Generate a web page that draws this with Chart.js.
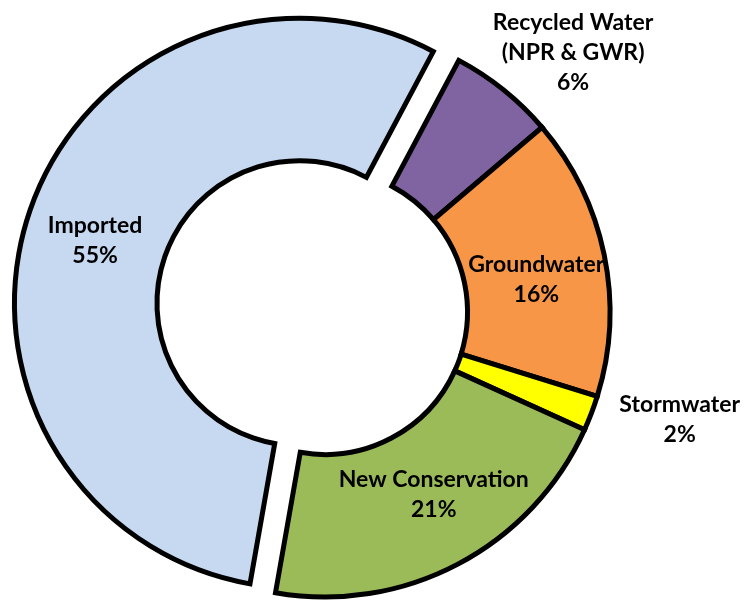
<!DOCTYPE html>
<html>
<head>
<meta charset="utf-8">
<script src="https://cdn.jsdelivr.net/npm/chart.js@4"></script>
<style>
  html, body { margin: 0; padding: 0; background: #fff; }
  #wrap { width: 746px; height: 603px; }
</style>
</head>
<body>
<div id="wrap"><canvas id="supplyChart" width="746" height="603"></canvas></div>
<script>
// water supply mix, clockwise from the top
var categories = ['Recycled Water', 'Groundwater', 'Stormwater', 'New Conservation', 'Imported'];
var labelLines = [['Recycled Water', '(NPR & GWR)', '6%'], ['Groundwater', '16%'], ['Stormwater', '2%'], ['New Conservation', '21%'], ['Imported', '55%']];
var shares = [6, 16, 2, 21, 55];

var sliceColors = ['#8064A2', '#F79646', '#FFFF00', '#9BBB59', '#C6D9F1'];
// how far (px) each slice is pulled out of the ring
var sliceExplode = [0, 0, 0, 0, 27];
// where each label sits: fraction across the ring (>1 = outside), angle nudge in degrees
var labelRadial = [1.52, 0.5, 1.6, 0.49, 0.5];
var labelTurn = [4.9, 3, -4, -3, -2];

function initialize() {
    // Chart.js "offset" also grows the radius of big slices, so move the arc itself
    var explodeSlices = {
        id: 'explodeSlices',
        afterUpdate: function (chart) {
            var meta = chart.getDatasetMeta(0);
            meta.data.forEach(function (arc, i) {
                var d = sliceExplode[i];
                if (!d) return;
                var mid = (arc.startAngle + arc.endAngle) / 2;
                arc.x += Math.cos(mid) * d;
                arc.y += Math.sin(mid) * d;
            });
        }
    };

    var sliceLabels = {
        id: 'sliceLabels',
        afterDatasetsDraw: function (chart) {
            var ctx = chart.ctx;
            var meta = chart.getDatasetMeta(0);
            ctx.save();
            ctx.font = 'bold 23px Lato';
            ctx.fillStyle = '#000';
            ctx.textAlign = 'center';
            ctx.textBaseline = 'middle';
            meta.data.forEach(function (arc, i) {
                var mid = (arc.startAngle + arc.endAngle) / 2 + labelTurn[i] * Math.PI / 180;
                var r = arc.innerRadius + labelRadial[i] * (arc.outerRadius - arc.innerRadius);
                var cx = arc.x + Math.cos(mid) * r;
                var cy = arc.y + Math.sin(mid) * r;
                var lines = labelLines[i];
                var lh = 30;
                var top = cy - (lines.length - 1) * lh / 2;
                lines.forEach(function (t, k) {
                    ctx.fillText(t, cx, top + k * lh);
                });
            });
            ctx.restore();
        }
    };

    var ctxSupply = document.getElementById('supplyChart').getContext('2d');
    new Chart(ctxSupply, {
        type: 'doughnut',
        data: {
            labels: categories,
            datasets: [{
                data: shares,
                backgroundColor: sliceColors,
                borderColor: '#000',
                borderWidth: 5,
                borderJoinStyle: 'miter',
                hoverOffset: 0
            }]
        },
        options: {
            responsive: false,
            animation: false,
            rotation: 28,
            radius: 285,
            cutout: '50%',
            layout: { padding: { left: 0, right: 96, top: 21, bottom: 0 } },
            plugins: {
                legend: { display: false },
                tooltip: { enabled: false }
            }
        },
        plugins: [explodeSlices, sliceLabels]
    });
}

initialize();
</script>
</body>
</html>
